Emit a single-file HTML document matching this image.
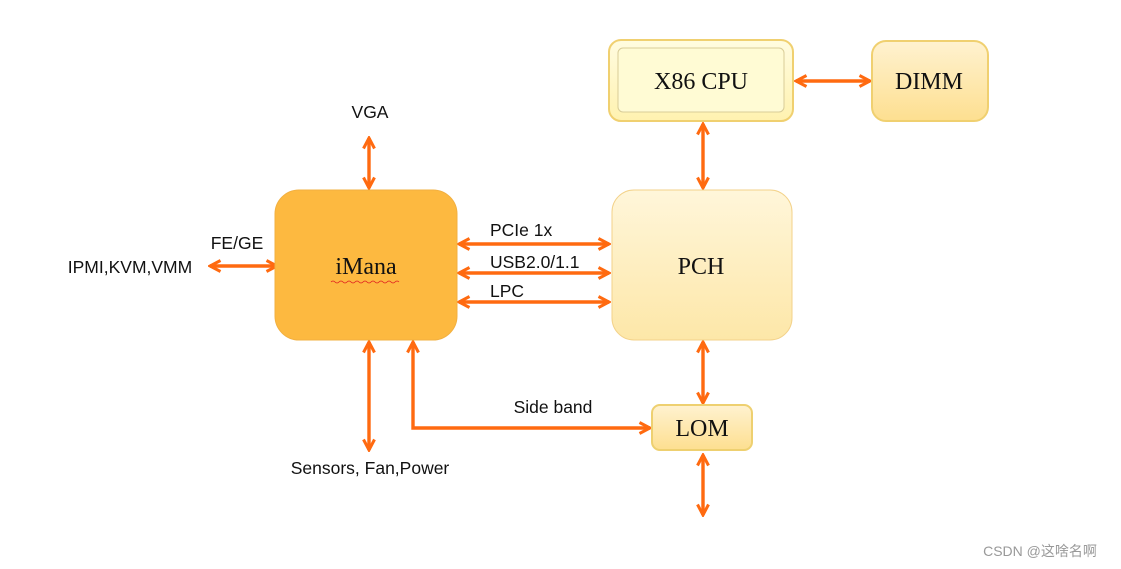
<!DOCTYPE html>
<html><head><meta charset="utf-8"><style>
html,body{margin:0;padding:0;background:#fff;width:1121px;height:569px;overflow:hidden}
svg{display:block}
.s{font-family:"Liberation Sans",sans-serif;font-size:17.5px;fill:#111}
.b{font-family:"Liberation Serif",serif;font-size:24px;fill:#111}
</style></head><body>
<svg width="1121" height="569" viewBox="0 0 1121 569" xmlns="http://www.w3.org/2000/svg">
<defs>
<marker id="a" viewBox="0 0 14 14" refX="12" refY="7" markerWidth="14" markerHeight="14" markerUnits="userSpaceOnUse" orient="auto-start-reverse">
<polyline points="1.5,1.5 12,7 1.5,12.5" fill="none" stroke="#ff6a10" stroke-width="3"/>
</marker>
<linearGradient id="py" x1="0" y1="0" x2="0" y2="1"><stop offset="0" stop-color="#fff6da"/><stop offset="1" stop-color="#fde7a8"/></linearGradient>
<linearGradient id="cy" x1="0" y1="0" x2="0" y2="1"><stop offset="0" stop-color="#fffce0"/><stop offset="1" stop-color="#fff2b0"/></linearGradient>
<linearGradient id="dy" x1="0" y1="0" x2="0" y2="1"><stop offset="0" stop-color="#fff2d0"/><stop offset="1" stop-color="#fddf90"/></linearGradient>
</defs>
<g stroke="#ff6a10" stroke-width="3.4" fill="none" marker-start="url(#a)" marker-end="url(#a)">
<line x1="369" y1="138" x2="369" y2="188"/>
<line x1="210" y1="266" x2="277" y2="266"/>
<line x1="459" y1="244" x2="609" y2="244"/>
<line x1="459" y1="273" x2="609" y2="273"/>
<line x1="459" y1="302" x2="609" y2="302"/>
<line x1="703" y1="124" x2="703" y2="188"/>
<line x1="796" y1="81" x2="870" y2="81"/>
<line x1="703" y1="342" x2="703" y2="403"/>
<line x1="703" y1="455" x2="703" y2="515"/>
<line x1="369" y1="342" x2="369" y2="450"/>
</g>
<polyline points="413,342 413,428 650,428" stroke="#ff6a10" stroke-width="3.4" fill="none" marker-start="url(#a)" marker-end="url(#a)"/>
<rect x="275" y="190" width="182" height="150" rx="24" fill="#fdb940" stroke="#f2b040"/>
<rect x="612" y="190" width="180" height="150" rx="22" fill="url(#py)" stroke="#f3d28a"/>
<rect x="609" y="40" width="184" height="81" rx="12" fill="url(#cy)" stroke="#f0d070" stroke-width="2"/>
<rect x="618" y="48" width="166" height="64" rx="5" fill="#fffbd4" stroke="#d8cc98"/>
<rect x="872" y="41" width="116" height="80" rx="14" fill="url(#dy)" stroke="#f0d070" stroke-width="2"/>
<rect x="652" y="405" width="100" height="45" rx="8" fill="url(#dy)" stroke="#eed070" stroke-width="2"/>
<text class="b" x="366" y="274" text-anchor="middle">iMana</text>
<path d="M331 282 q2 -2 4 0 t4 0 t4 0 t4 0 t4 0 t4 0 t4 0 t4 0 t4 0 t4 0 t4 0 t4 0 t4 0 t4 0 t4 0 t4 0 t4 0" stroke="#e02020" stroke-width="0.8" fill="none"/>
<text class="b" x="701" y="274" text-anchor="middle">PCH</text>
<text class="b" x="701" y="89" text-anchor="middle">X86 CPU</text>
<text class="b" x="929" y="89" text-anchor="middle">DIMM</text>
<text class="b" x="702" y="436" text-anchor="middle">LOM</text>
<text class="s" x="370" y="118" text-anchor="middle">VGA</text>
<text class="s" x="237" y="249" text-anchor="middle">FE/GE</text>
<text class="s" x="130" y="273" text-anchor="middle">IPMI,KVM,VMM</text>
<text class="s" x="490" y="236">PCIe 1x</text>
<text class="s" x="490" y="268">USB2.0/1.1</text>
<text class="s" x="490" y="297">LPC</text>
<text class="s" x="553" y="413" text-anchor="middle">Side band</text>
<text class="s" x="370" y="474" text-anchor="middle">Sensors, Fan,Power</text>
<text x="1040" y="556" text-anchor="middle" style="font-family:'Liberation Sans','Noto Sans CJK SC',sans-serif;font-size:14px;fill:#999">CSDN @这啥名啊</text>
</svg>
</body></html>
